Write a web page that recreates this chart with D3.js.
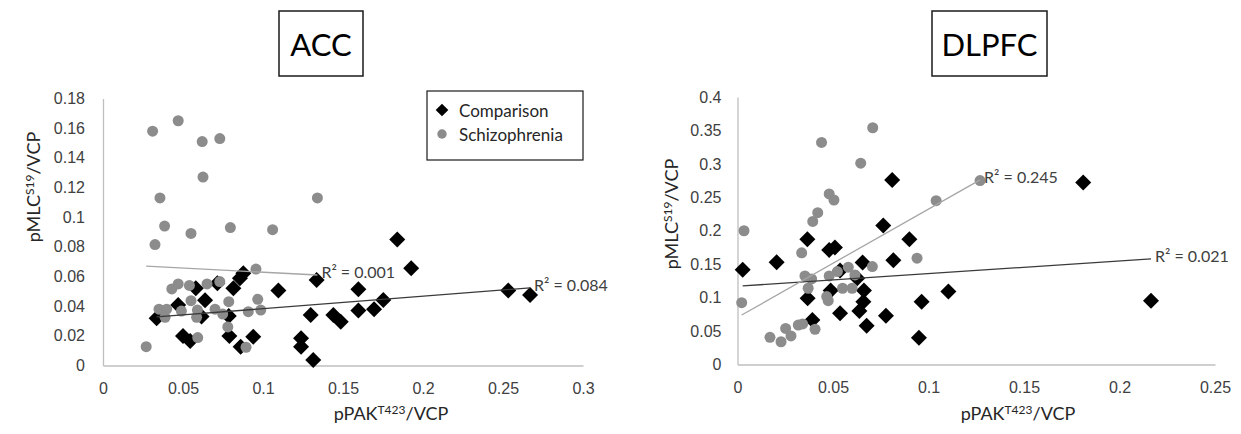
<!DOCTYPE html>
<html lang="en">
<head>
    <meta charset="UTF-8">
    <title>pMLC vs pPAK scatter</title>
    <script src="https://d3js.org/d3.v7.min.js"></script>
    <style>
        body { margin: 0; background: #fff; }
        svg { font-family: Lato, "Open Sans", sans-serif; }
        .axis path { stroke: #bfbfbf; stroke-width: 1.3; }
        .axis text { font-size: 16px; fill: #404040; }
        .axis-title { font-size: 18px; fill: #262626; }
        .r2 { font-size: 16px; fill: #404040; }
        .legend text { font-size: 17px; fill: #262626; }
    </style>
</head>
<body>
    <svg width="1241" height="434"></svg>
    <script>
        // ACC data [pPAK, pMLC]
        const accComparison = [
            [0.0335, 0.0318], [0.047, 0.0408], [0.05, 0.0199], [0.0545, 0.0165], [0.058, 0.052],
            [0.0616, 0.033], [0.0638, 0.044], [0.0715, 0.0554], [0.0786, 0.0334], [0.079, 0.0199],
            [0.0815, 0.052], [0.0856, 0.0588], [0.0877, 0.0622], [0.086, 0.0127], [0.0939, 0.0194],
            [0.1096, 0.0505], [0.1238, 0.0183], [0.1238, 0.0127], [0.1298, 0.034], [0.1314, 0.0037],
            [0.1335, 0.0577], [0.1596, 0.0514], [0.1596, 0.037], [0.144, 0.034], [0.1486, 0.0295],
            [0.1694, 0.038], [0.1752, 0.0442], [0.1839, 0.085], [0.1926, 0.0655], [0.2533, 0.0505],
            [0.2669, 0.0475]
        ];
        const accSchizophrenia = [
            [0.031, 0.158], [0.047, 0.165], [0.062, 0.151], [0.073, 0.153], [0.0625, 0.127],
            [0.0356, 0.113], [0.134, 0.113], [0.0385, 0.094], [0.055, 0.089], [0.0796, 0.093],
            [0.106, 0.0916], [0.0325, 0.0815], [0.0956, 0.065], [0.027, 0.0127], [0.043, 0.0516],
            [0.047, 0.055], [0.054, 0.054], [0.065, 0.055], [0.073, 0.0566], [0.035, 0.038],
            [0.0398, 0.038], [0.0388, 0.0325], [0.049, 0.0367], [0.055, 0.0437], [0.059, 0.0374],
            [0.0585, 0.0325], [0.07, 0.038], [0.0786, 0.043], [0.0748, 0.0347], [0.078, 0.026],
            [0.0908, 0.0363], [0.0967, 0.0446], [0.0986, 0.0374], [0.0592, 0.0188], [0.0894, 0.0123]
        ];

        // DLPFC data [pPAK, pMLC]
        const dlpfcComparison = [
            [0.0027, 0.1415], [0.0205, 0.153], [0.0366, 0.1874], [0.0367, 0.099], [0.0392, 0.0666],
            [0.048, 0.1714], [0.051, 0.175], [0.0488, 0.1105], [0.0537, 0.1404], [0.0537, 0.0766],
            [0.0627, 0.129], [0.0655, 0.1524], [0.0662, 0.1105], [0.0659, 0.094], [0.0638, 0.08],
            [0.0676, 0.058], [0.0763, 0.2078], [0.081, 0.276], [0.0816, 0.156], [0.0777, 0.073],
            [0.09, 0.1874], [0.0964, 0.094], [0.095, 0.04], [0.1104, 0.109], [0.181, 0.272],
            [0.2165, 0.0955]
        ];
        const dlpfcSchizophrenia = [
            [0.0034, 0.2], [0.0022, 0.0925], [0.044, 0.332], [0.0708, 0.354], [0.0645, 0.301],
            [0.048, 0.255], [0.0505, 0.246], [0.042, 0.227], [0.0394, 0.214], [0.0336, 0.167],
            [0.0353, 0.1325], [0.0388, 0.128], [0.037, 0.114], [0.0467, 0.1015], [0.0475, 0.0955],
            [0.048, 0.1325], [0.0523, 0.139], [0.058, 0.1455], [0.0615, 0.134], [0.055, 0.114],
            [0.06, 0.114], [0.0706, 0.1464], [0.094, 0.159], [0.104, 0.245], [0.017, 0.0407],
            [0.0228, 0.034], [0.0252, 0.054], [0.028, 0.0427], [0.0318, 0.059], [0.0341, 0.0606],
            [0.0406, 0.0527], [0.127, 0.275]
        ];

        // trendlines [slope, intercept] and R² labels
        const accTrendComparison = [0.084, 0.0299];
        const accTrendSchizophrenia = [-0.056, 0.0685];
        const dlpfcTrendComparison = [0.189, 0.117];
        const dlpfcTrendSchizophrenia = [1.62, 0.0704];
        const accR2 = ["R² = 0.084", "R² = 0.001"];
        const dlpfcR2 = ["R² = 0.021", "R² = 0.245"];

        // tick values
        const accXTicks = [0, 0.05, 0.1, 0.15, 0.2, 0.25, 0.3];
        const accYTicks = [0, 0.02, 0.04, 0.06, 0.08, 0.1, 0.12, 0.14, 0.16, 0.18];
        const dlpfcXTicks = [0, 0.05, 0.1, 0.15, 0.2, 0.25];
        const dlpfcYTicks = [0, 0.05, 0.1, 0.15, 0.2, 0.25, 0.3, 0.35, 0.4];

        const seriesNames = ["Comparison", "Schizophrenia"];

        const svg = d3.select("svg");
        const fmt = d3.format("~g");
        const diamond = d3.symbol().type(d3.symbolSquare).size(128);
        const dot = d3.symbol().type(d3.symbolCircle).size(95);
        const grey = "#8c8c8c";

        function drawPanel(p) {
            const x = d3.scaleLinear().domain(p.xDomain).range(p.xRange);
            const y = d3.scaleLinear().domain(p.yDomain).range(p.yRange);
            const g = svg.append("g");

            g.append("g")
                .attr("class", "axis")
                .attr("transform", `translate(0,${p.yRange[0]})`)
                .call(d3.axisBottom(x).tickValues(p.xTicks).tickFormat(fmt).tickSize(0).tickPadding(17))
                .call(a => a.selectAll(".tick line").remove());

            g.append("g")
                .attr("class", "axis")
                .attr("transform", `translate(${p.xRange[0]},0)`)
                .call(d3.axisLeft(y).tickValues(p.yTicks).tickFormat(fmt).tickSize(0).tickPadding(p.yPad))
                .call(a => a.selectAll(".tick line").remove());

            g.selectAll("text").attr("font-family", null);

            // Comparison (diamonds) then Schizophrenia (circles)
            g.append("g").selectAll("path")
                .data(p.comparison)
                .join("path")
                .attr("d", diamond)
                .attr("fill", "#000")
                .attr("transform", d => `translate(${x(d[0])},${y(d[1])}) rotate(45)`);

            g.append("g").selectAll("path")
                .data(p.schizophrenia)
                .join("path")
                .attr("d", dot)
                .attr("fill", grey)
                .attr("transform", d => `translate(${x(d[0])},${y(d[1])})`);

            // trendlines
            const trends = [
                {data: p.comparison, t: p.trendC, color: "#3a3a3a", label: p.r2[0]},
                {data: p.schizophrenia, t: p.trendS, color: "#a6a6a6", label: p.r2[1]}
            ];
            trends.forEach(tr => {
                const ext = d3.extent(tr.data, d => d[0]);
                const pts = ext.map(v => [v, tr.t[0] * v + tr.t[1]]);
                g.append("line")
                    .attr("x1", x(pts[0][0])).attr("y1", y(pts[0][1]))
                    .attr("x2", x(pts[1][0])).attr("y2", y(pts[1][1]))
                    .attr("stroke", tr.color)
                    .attr("stroke-width", 1.3);
                g.append("text")
                    .attr("class", "r2")
                    .attr("x", x(pts[1][0]) + 4)
                    .attr("y", y(pts[1][1]) - 1)
                    .attr("dominant-baseline", "middle")
                    .text(tr.label);
            });

            // axis titles
            const xt = g.append("text")
                .attr("class", "axis-title")
                .attr("x", p.xTitle[0])
                .attr("y", p.xTitle[1])
                .attr("text-anchor", "middle");
            xt.append("tspan").text("pPAK");
            xt.append("tspan").attr("font-size", "12px").attr("dy", -6).text("T423");
            xt.append("tspan").attr("dy", 6).text("/VCP");

            const yt = g.append("text")
                .attr("class", "axis-title")
                .attr("text-anchor", "middle")
                .attr("transform", `translate(${p.yTitle[0]},${p.yTitle[1]}) rotate(-90)`);
            yt.append("tspan").text("pMLC");
            yt.append("tspan").attr("font-size", "12px").attr("dy", -6).text("S19");
            yt.append("tspan").attr("dy", 6).text("/VCP");

            // boxed title
            const tb = p.titleBox;
            g.append("rect")
                .attr("x", tb[0]).attr("y", tb[1])
                .attr("width", tb[2]).attr("height", tb[3])
                .attr("fill", "none")
                .attr("stroke", "#1a1a1a")
                .attr("stroke-width", 1.5);
            g.append("text")
                .attr("x", tb[0] + tb[2] / 2)
                .attr("y", tb[1] + tb[3] / 2)
                .attr("text-anchor", "middle")
                .attr("dominant-baseline", "central")
                .attr("font-size", "31px")
                .attr("fill", "#000")
                .text(p.title);
        }

        drawPanel({
            title: "ACC",
            titleBox: [279, 11, 84, 65],
            xDomain: [0, 0.3], xRange: [103, 583],
            yDomain: [0, 0.18], yRange: [365.5, 98.5],
            xTicks: accXTicks, yTicks: accYTicks, yPad: 18,
            comparison: accComparison, schizophrenia: accSchizophrenia,
            trendC: accTrendComparison, trendS: accTrendSchizophrenia, r2: accR2,
            xTitle: [391, 420], yTitle: [40, 187]
        });

        drawPanel({
            title: "DLPFC",
            titleBox: [932, 11, 115, 65],
            xDomain: [0, 0.25], xRange: [737.5, 1215],
            yDomain: [0, 0.4], yRange: [364.5, 97],
            xTicks: dlpfcXTicks, yTicks: dlpfcYTicks, yPad: 16,
            comparison: dlpfcComparison, schizophrenia: dlpfcSchizophrenia,
            trendC: dlpfcTrendComparison, trendS: dlpfcTrendSchizophrenia, r2: dlpfcR2,
            xTitle: [1018, 420], yTitle: [678, 214]
        });

        // legend (ACC panel)
        const legend = svg.append("g").attr("class", "legend");
        legend.append("rect")
            .attr("x", 427).attr("y", 91)
            .attr("width", 156).attr("height", 69)
            .attr("fill", "#fff")
            .attr("stroke", "#1a1a1a")
            .attr("stroke-width", 1.2);
        const items = legend.selectAll("g.item")
            .data(seriesNames)
            .join("g")
            .attr("class", "item")
            .attr("transform", (d, i) => `translate(442,${110 + i * 24})`);
        items.append("path")
            .attr("d", (d, i) => i === 0
                ? d3.symbol().type(d3.symbolSquare).size(80)()
                : d3.symbol().type(d3.symbolCircle).size(70)())
            .attr("transform", (d, i) => i === 0 ? "rotate(45)" : null)
            .attr("fill", (d, i) => i === 0 ? "#000" : grey);
        items.append("text")
            .attr("x", 17)
            .attr("dominant-baseline", "central")
            .text(d => d);
    </script>
</body>
</html>
